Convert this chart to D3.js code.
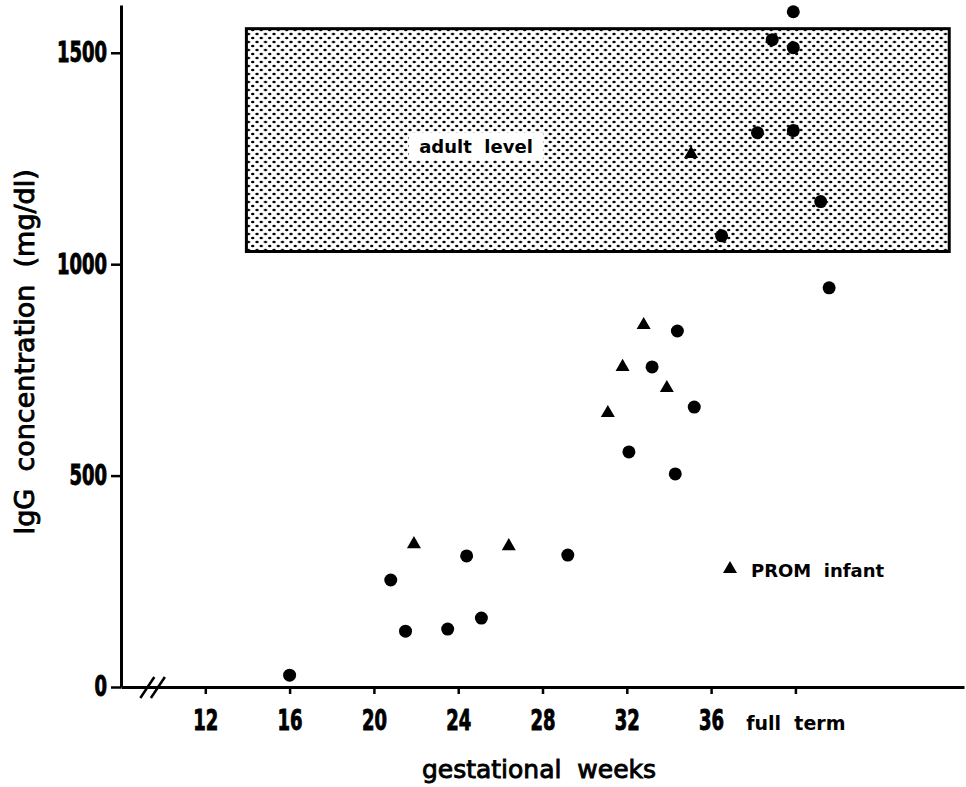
<!DOCTYPE html>
<html>
<head>
<meta charset="utf-8">
<script src="https://cdn.jsdelivr.net/npm/d3@7"></script>
<style>
  body { margin: 0; background: #fff; }
  svg { display: block; }
  text { white-space: pre; }
</style>
</head>
<body>
<svg id="chart" width="966" height="787"></svg>
<script>
// full term infants (filled circles)
var termWeeks = [16, 20.8, 21.5, 23.5, 24.4, 25.1, 29.2, 32.1, 33.2, 34.3, 34.4, 35.2,
                 36.5, 38.2, 38.9, 39.9, 39.9, 39.9, 41.2, 41.6];
var termIgG   = [28, 253, 132, 137, 310, 163, 312, 556, 757, 504, 842, 662,
                 1067, 1311, 1531, 1597, 1512, 1316, 1148, 944];

// PROM infants (triangles)
var promWeeks = [21.9, 26.4, 31.1, 31.8, 32.8, 33.9, 35.05];
var promIgG   = [338, 333, 648, 757, 856, 707, 1261];

var xTicks = [12, 16, 20, 24, 28, 32, 36, 40];
var yTicks = [0, 500, 1000, 1500];
var adultLevel = [1030, 1557];

var svg = d3.select('#chart');

var x = d3.scaleLinear().domain([8, 48]).range([121, 964]);
var y = d3.scaleLinear().domain([0, 1613]).range([687, 5]);

// halftone pattern for the adult level box
var defs = svg.append('defs');
var pat = defs.append('pattern')
  .attr('id', 'dots')
  .attr('patternUnits', 'userSpaceOnUse')
  .attr('width', 8.5).attr('height', 8);
pat.append('ellipse').attr('cx', 2).attr('cy', 2).attr('rx', 1.7).attr('ry', 1.3).attr('fill', '#000');
pat.append('ellipse').attr('cx', 6.25).attr('cy', 6).attr('rx', 1.7).attr('ry', 1.3).attr('fill', '#000');

svg.append('rect')
  .attr('x', x(13.95))
  .attr('y', y(adultLevel[1]))
  .attr('width', x(47.3) - x(13.95))
  .attr('height', y(adultLevel[0]) - y(adultLevel[1]))
  .attr('fill', 'url(#dots)')
  .attr('stroke', '#000')
  .attr('stroke-width', 3);

svg.append('rect')
  .attr('x', 409).attr('y', 133)
  .attr('width', 134).attr('height', 27)
  .attr('fill', '#fff');

svg.append('text')
  .attr('x', 476).attr('y', 153)
  .attr('text-anchor', 'middle')
  .style('font-family', 'DejaVu Sans')
  .style('font-weight', 'bold')
  .style('font-size', '18px')
  .text('adult  level');

// squeeze the digits like the old condensed typeface
function condense(sel) {
  sel.style('font-family', "'DejaVu Sans'")
    .style('font-stretch', 'condensed')
    .style('font-weight', 'bold')
    .style('font-size', '28px')
    .attr('fill', '#000')
    .attr('stroke', '#000')
    .attr('stroke-width', 0.9)
    .attr('lengthAdjust', 'spacingAndGlyphs')
    .attr('textLength', function (d) { return String(d).length * 12.5; });
}

// axes
var xAxis = d3.axisBottom(x)
  .tickValues(xTicks)
  .tickSize(7)
  .tickSizeOuter(0)
  .tickPadding(11)
  .tickFormat(function (d) { return d === 40 ? 'full  term' : d; });

var gx = svg.append('g')
  .attr('transform', 'translate(0,' + y(0) + ')')
  .call(xAxis);
gx.select('.domain').attr('stroke-width', 3);
gx.selectAll('.tick line').attr('stroke-width', 2.5);
gx.selectAll('.tick text')
  .filter(function (d) { return d !== 40; })
  .attr('dy', '0.9em')
  .call(condense);
gx.selectAll('.tick text')
  .filter(function (d) { return d === 40; })
  .attr('dy', '1.3em')
  .style('font-family', 'DejaVu Sans')
  .style('font-weight', 'bold')
  .style('font-size', '19px')
  .attr('fill', '#000');

var yAxis = d3.axisLeft(y)
  .tickValues(yTicks)
  .tickSize(10)
  .tickSizeOuter(0)
  .tickPadding(4)
  .tickFormat(d3.format('d'));

var gy = svg.append('g')
  .attr('transform', 'translate(' + x(8) + ',0)')
  .call(yAxis);
gy.select('.domain').attr('stroke-width', 3);
gy.selectAll('.tick line').attr('stroke-width', 2.5);
gy.selectAll('.tick text').call(condense);

// axis break marks
[9.25, 9.75].forEach(function (w) {
  svg.append('line')
    .attr('x1', x(w) - 7).attr('y1', y(0) + 11)
    .attr('x2', x(w) + 7).attr('y2', y(0) - 10)
    .attr('stroke', '#000').attr('stroke-width', 2.5);
});

// axis titles
svg.append('text')
  .attr('x', 539).attr('y', 778)
  .attr('text-anchor', 'middle')
  .style('font-family', 'DejaVu Sans')
  .style('font-size', '25px')
  .attr('stroke', '#000').attr('stroke-width', 0.9)
  .text('gestational  weeks');

svg.append('text')
  .attr('transform', 'translate(34,352) rotate(-90)')
  .attr('text-anchor', 'middle')
  .style('font-family', 'DejaVu Sans')
  .style('font-size', '27px')
  .attr('stroke', '#000').attr('stroke-width', 0.9)
  .text('IgG  concentration  (mg/dl)');

// points
var tri = d3.symbol().type(d3.symbolTriangle).size(85);

svg.append('g').selectAll('circle')
  .data(termWeeks)
  .enter().append('circle')
  .attr('cx', function (d) { return x(d); })
  .attr('cy', function (d, i) { return y(termIgG[i]); })
  .attr('r', 6.5)
  .attr('fill', '#000');

svg.append('g').selectAll('path')
  .data(promWeeks)
  .enter().append('path')
  .attr('d', tri)
  .attr('transform', function (d, i) { return 'translate(' + x(d) + ',' + y(promIgG[i]) + ')'; })
  .attr('fill', '#000');

// legend
svg.append('path')
  .attr('d', tri)
  .attr('transform', 'translate(730,569)')
  .attr('fill', '#000');
svg.append('text')
  .attr('x', 751).attr('y', 577)
  .style('font-family', 'DejaVu Sans')
  .style('font-weight', 'bold')
  .style('font-size', '18px')
  .text('PROM  infant');
</script>
</body>
</html>
